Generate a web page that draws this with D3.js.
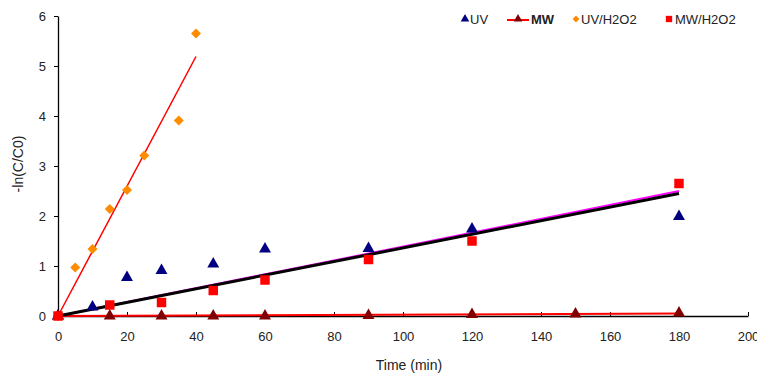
<!doctype html>
<html>
<head>
<meta charset="utf-8">
<script src="https://cdn.jsdelivr.net/npm/d3@7"></script>
<style>
  body { margin:0; background:#fff; }
  text { font-family: "Liberation Sans", Arial, sans-serif; fill:#222; }
</style>
</head>
<body>
<div id="chart"></div>
<script>
// time points (min) and -ln(C/C0) values
var uvTime = [0, 10, 20, 30, 45, 60, 90, 120, 180];
var uvVal  = [0, 0.18, 0.77, 0.91, 1.04, 1.34, 1.35, 1.74, 1.99];

var mwTime = [0, 15, 30, 45, 60, 90, 120, 150, 180];
var mwVal  = [0, 0, 0, 0, 0, 0.01, 0.03, 0.04, 0.06];

var uvH2o2Time = [0, 5, 10, 15, 20, 25, 35, 40];
var uvH2o2Val  = [0, 0.97, 1.34, 2.14, 2.52, 3.21, 3.91, 5.65];

var mwH2o2Time = [0, 15, 30, 45, 60, 90, 120, 180];
var mwH2o2Val  = [0, 0.22, 0.27, 0.51, 0.72, 1.13, 1.5, 2.65];

// linear fit lines (start/end points)
var fitUvH2o2 = [[0, 0], [40, 5.19]];
var fitMw     = [[0, 0], [180, 0.05]];
var fitMagenta = [[0, 0], [180, 2.5]];
var fitBlack  = [[0, 0], [180, 2.45]];

var xTicks = [0, 20, 40, 60, 80, 100, 120, 140, 160, 180, 200];
var yTicks = [0, 1, 2, 3, 4, 5, 6];

var width = 757, height = 374;
var svg = d3.select("#chart").append("svg")
  .attr("width", width).attr("height", height);

var x = d3.scaleLinear().domain([0, 200]).range([58, 748]);
var y = d3.scaleLinear().domain([0, 6]).range([316, 16]);

// axes
svg.append("g").attr("transform", "translate(0,316)")
  .call(d3.axisBottom(x).tickValues(xTicks).tickFormat(d3.format("d"))
    .tickSizeInner(-4).tickSizeOuter(0).tickPadding(16));
svg.append("g").attr("transform", "translate(58,0)")
  .call(d3.axisLeft(y).tickValues(yTicks).tickFormat(d3.format("d"))
    .tickSizeInner(4).tickSizeOuter(0).tickPadding(8));
svg.selectAll(".domain").attr("stroke", "#000").attr("stroke-width", 1.3);
svg.selectAll(".tick line").attr("stroke", "#000");
svg.selectAll(".tick text").style("font-size", "13px").attr("fill", "#222");

svg.append("text").attr("x", 409).attr("y", 370).attr("text-anchor", "middle")
  .style("font-size", "14px").text("Time (min)");
svg.append("text").attr("transform", "translate(23,164) rotate(-90)")
  .attr("text-anchor", "middle").style("font-size", "14px").text("-ln(C/C0)");

var line = d3.line().x(function(d){ return x(d[0]); }).y(function(d){ return y(d[1]); });

svg.append("path").datum(fitMw).attr("d", line).attr("stroke", "#ff0000").attr("stroke-width", 2).attr("fill", "none");
svg.append("path").datum(fitUvH2o2).attr("d", line).attr("stroke", "#ff0000").attr("stroke-width", 1.5).attr("fill", "none");
svg.append("path").datum(fitMagenta).attr("d", line).attr("stroke", "#ff00ff").attr("stroke-width", 2).attr("fill", "none");
svg.append("path").datum(fitBlack).attr("d", line).attr("stroke", "#000").attr("stroke-width", 3).attr("fill", "none");

function pts(t, v) { return t.map(function(d, i){ return [d, v[i]]; }); }

function markers(data, type, size, color) {
  svg.append("g").selectAll("path").data(data).enter().append("path")
    .attr("d", d3.symbol().type(type).size(size))
    .attr("transform", function(d){ return "translate(" + x(d[0]) + "," + y(d[1]) + ")"; })
    .attr("fill", color);
}

markers(pts(uvH2o2Time, uvH2o2Val), d3.symbolDiamond2, 64, "#ff8c00");
markers(pts(uvTime, uvVal), d3.symbolTriangle, 62, "#000080");
markers(pts(mwTime, mwVal), d3.symbolTriangle, 62, "#800000");
markers(pts(mwH2o2Time, mwH2o2Val), d3.symbolSquare, 90, "#ff0000");

// legend
var lg = svg.append("g");
function legSym(cx, type, size, color) {
  lg.append("path").attr("d", d3.symbol().type(type).size(size))
    .attr("transform", "translate(" + cx + ",19)").attr("fill", color);
}
function legText(tx, s, bold) {
  lg.append("text").attr("x", tx).attr("y", 24).style("font-size", "13px")
    .style("font-weight", bold ? "bold" : "normal").text(s);
}
legSym(465, d3.symbolTriangle, 32, "#000080");
legText(470, "UV");
lg.append("line").attr("x1", 507).attr("x2", 529).attr("y1", 20).attr("y2", 20)
  .attr("stroke", "#ff0000").attr("stroke-width", 2);
legSym(518, d3.symbolTriangle, 32, "#800000");
legText(531, "MW", true);
legSym(576, d3.symbolDiamond2, 30, "#ff8c00");
legText(581, "UV/H2O2");
legSym(669, d3.symbolSquare, 40, "#ff0000");
legText(675, "MW/H2O2");
</script>
</body>
</html>
